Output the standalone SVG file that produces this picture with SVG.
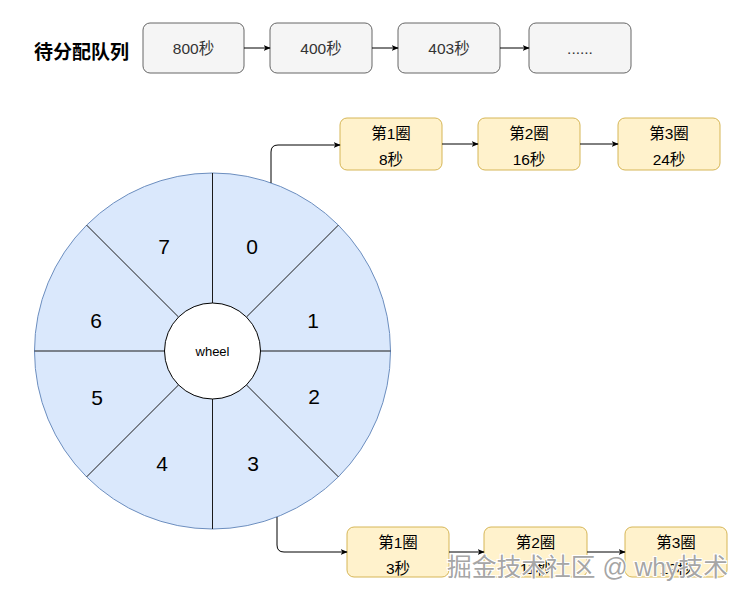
<svg xmlns="http://www.w3.org/2000/svg" width="750" height="600" viewBox="0 0 750 600">
<defs>
<marker id="arr" viewBox="0 0 10 10" refX="9" refY="5" markerWidth="7" markerHeight="7" orient="auto" markerUnits="userSpaceOnUse">
<path d="M0,1 L10,5 L0,9 L2.5,5 Z" fill="#000"/>
</marker>
<style>
text{font-family:"Liberation Sans","Noto Sans CJK SC",sans-serif;}
.q{fill:#f5f5f5;stroke:#666;stroke-width:1;}
.qt{font-size:15.5px;fill:#333;text-anchor:middle;}
.y{fill:#fff2cc;stroke:#d6b656;stroke-width:1;}
.yt{font-size:15.5px;fill:#000;text-anchor:middle;}
.seg{fill:#dae8fc;stroke:#6c8ebf;stroke-width:1;}
.div{stroke:#1a1a1a;stroke-width:1;fill:none;}
.num{font-size:21px;fill:#000;text-anchor:middle;}
.c{fill:none;stroke:#000;stroke-width:1;marker-end:url(#arr);}
</style>
</defs>
<rect width="750" height="600" fill="#fff"/>
<text x="34" y="59" font-size="19" font-weight="bold" fill="#000">待分配队列</text>
<g id="queue">
<g id="q1"><rect class="q" x="143" y="23" width="101" height="50" rx="7"/><text class="qt" x="193.5" y="53.5">800秒</text></g>
<g id="q2"><rect class="q" x="270" y="23" width="102" height="50" rx="7"/><text class="qt" x="321" y="53.5">400秒</text></g>
<g id="q3"><rect class="q" x="398" y="23" width="102" height="50" rx="7"/><text class="qt" x="449" y="53.5">403秒</text></g>
<g id="q4"><rect class="q" x="529" y="23" width="102" height="50" rx="7"/><text class="qt" x="580" y="53.5">......</text></g>
</g>
<g id="wheel">
<circle class="seg" cx="212.5" cy="351" r="178"/>
<path class="div" d="M212.5,173 V303 M212.5,399 V529 M34.5,351 H164.5 M260.5,351 H390.5 M246.4,317.1 L338.4,225.1 M178.6,317.1 L86.6,225.1 M246.4,384.9 L338.4,476.9 M178.6,384.9 L86.6,476.9"/>
<circle cx="212.5" cy="351" r="48" fill="#fff" stroke="#000" stroke-width="1"/>
<text x="212.5" y="355.5" font-size="13" text-anchor="middle" fill="#000">wheel</text>
<text class="num" x="252" y="254">0</text>
<text class="num" x="313" y="328">1</text>
<text class="num" x="314" y="404">2</text>
<text class="num" x="253" y="471">3</text>
<text class="num" x="162" y="471">4</text>
<text class="num" x="97" y="405">5</text>
<text class="num" x="96" y="328">6</text>
<text class="num" x="164" y="254">7</text>
</g>
<g id="slot0">
<g id="a1"><rect class="y" x="340" y="118" width="102" height="52" rx="7"/><text class="yt" x="391" y="138.5">第1圈</text><text class="yt" x="391" y="165">8秒</text></g>
<g id="a2"><rect class="y" x="478" y="118" width="102" height="52" rx="7"/><text class="yt" x="529" y="138.5">第2圈</text><text class="yt" x="529" y="165">16秒</text></g>
<g id="a3"><rect class="y" x="618" y="118" width="102" height="52" rx="7"/><text class="yt" x="669" y="138.5">第3圈</text><text class="yt" x="669" y="165">24秒</text></g>
</g>
<g id="slot3">
<g id="b1"><rect class="y" x="347" y="527" width="102" height="50" rx="7"/><text class="yt" x="398" y="547.5">第1圈</text><text class="yt" x="398" y="574">3秒</text></g>
<g id="b2"><rect class="y" x="484" y="527" width="103" height="50" rx="7"/><text class="yt" x="535.5" y="547.5">第2圈</text><text class="yt" x="535.5" y="574">11秒</text></g>
<g id="b3"><rect class="y" x="625" y="527" width="102" height="50" rx="7"/><text class="yt" x="676" y="547.5">第3圈</text><text class="yt" x="676" y="574">19秒</text></g>
</g>
<g id="connectors">
<path class="c" d="M244,48 H270"/>
<path class="c" d="M372,48 H398"/>
<path class="c" d="M500,48 H529"/>
<path class="c" d="M271,183 V152 Q271,145 278,145 H340"/>
<path class="c" d="M442,144 H478"/>
<path class="c" d="M580,144 H618"/>
<path class="c" d="M277,517 V545 Q277,552 284,552 H347"/>
<path class="c" d="M449,552 H484"/>
<path class="c" d="M587,552 H625"/>
</g>
<text x="447" y="576" font-size="25" fill="#9a9a9a" fill-opacity="0.9" stroke="#fff" stroke-width="2" paint-order="stroke" textLength="281" lengthAdjust="spacingAndGlyphs">掘金技术社区 @ why技术</text>
</svg>
